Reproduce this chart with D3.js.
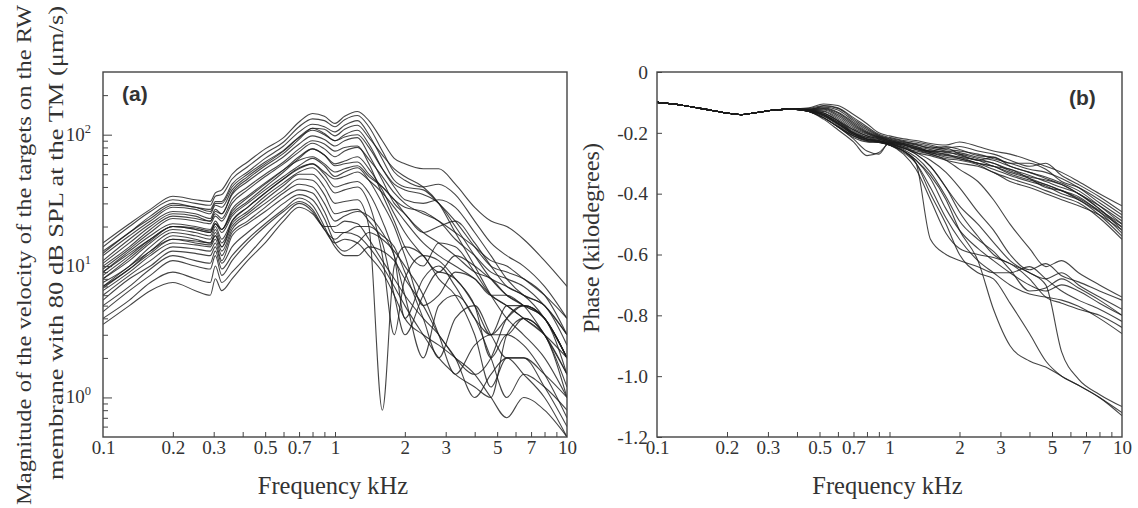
<!DOCTYPE html>
<meta charset="utf-8">
<style>
  body { margin: 0; background: #fff; }
  svg { display: block; }
</style>
<svg width="1138" height="508"></svg>
<script src="https://d3js.org/d3.v7.min.js"></script>
<script>

// ---------- data ----------

// panel (a): magnitude, um/s, sampled at these frequencies (kHz)
const freqA = [0.1, 0.13, 0.16, 0.2, 0.25, 0.29, 0.305, 0.325, 0.36, 0.42, 0.5, 0.6, 0.7, 0.8, 0.9,
               1.0, 1.1, 1.25, 1.4, 1.6, 1.8, 2.0, 2.4, 2.8, 3.3, 4.0, 4.7, 5.5, 6.5, 8.0, 10.0];

const magCurves = [
  [15,21,27,34,32,31,36,38, 50,62,78,95,125,145,138,122,138,150,128, 90,66,60,55,55,42,28,22,20,16,11,7],
  [14,20,26,32,30,29,34,35, 46,57,72,88,115,132,128,115,130,140,115, 75,52,45,40,42,35,22,15,12,10,7,4],
  [13,18,24,30,28,27,31,31, 42,52,66,82,105,120,115,105,118,128,100, 65,45,40,38,30,22,14,10,9,8,6,3],
  [12,17,22,28,27,25,29,28, 38,48,60,75,95,108,100,90,100,108,85, 55,40,32,30,32,28,18,12,8,6,5,2.5],
  [11,16,21,26,25,23,27,25, 35,44,55,68,85,98,92,82,90,95,70, 45,30,25,18,20,22,15,10,7,6,4,2],
  [10,14,19,24,23,22,25,23, 32,40,50,62,78,90,85,75,80,82,60, 35,22,14,10,15,14,9,6,5,4,3,1.5],
  [12.5,18,23,29,28,26,30,30, 40,50,62,76,96,112,102,90,96,100,80, 55,42,38,35,30,20,12,8,6,5,3,1.5],
  [10.5,15,20,25,24,22,26,25, 36,46,58,72,92,112,110,98,110,118,95, 70,55,48,40,30,18,10,6,4,3,2,1],
  [9.5,13.5,18,23,22,21,24,22, 30,38,48,60,74,86,78,68,75,80,65, 48,36,30,25,22,16,12,9,8,7,5,3],
  [8,11.5,15.5,20,19,18,21,19, 27,34,43,54,64,68,60,52,55,58,48, 40,32,25,18,15,12,9,8,6,5,4,2],
  [6.8,9.5,12.5,16,15,14.5,17,14, 22,28,36,46,55,60,52,46,48,52,45, 36,28,22,15,12,10,8,6,5,4,3,2],
  [9,12.5,16,20,19.5,18.5,21,19, 26,33,42,54,68,78,70,58,60,62,50, 40,32,28,26,22,18,14,11,10,8,6,4],
  [9,13,17,21,20,19,22,19, 25,31,40,52,66,78,70,60,63,68,55, 38,25,18,12,9,12,10,8,7,6,5,3],
  [8.5,12,16,20,19,18,21,18, 24,30,38,48,58,66,58,48,52,56,45, 30,20,12,5,6,9,8,6,6,5,4,2],
  [8,11,15,19,18,17,20,16, 22,28,36,46,56,60,50,40,42,44,36, 22,12,4,8,10,7,4,3,5,5,4,1.5],
  [7.5,10,14,18,17,16,19,15, 21,26,34,43,52,56,46,36,38,40,30, 12,3,8,12,11,8,5,2,3,2.5,1.5,0.7],
  [7,10,13,17,16,15,18,14, 20,25,32,41,50,50,40,30,31,32,20, 0.8,10,14,12,8,6,3,1.2,2,2,1.2,0.6],
  [7,9.5,13,16,15.5,15,17,13, 19,24,30,38,46,45,35,25,26,27,22, 15,6,3,6,9,8,5,3,4,5,4,2],
  [6.5,9,12,15,14.5,14,16,12, 18,22,28,36,42,40,30,22,24,26,24, 18,12,6,2,5,6,4,2,1,1.5,1.2,0.8],
  [6,8.5,11,14,13.5,13,15,11, 17,21,26,33,38,36,26,18,18,20,20, 17,14,9,4,2,4,5,3,2,2,1.5,1],
  [5.5,8,10,13,12.5,12,14,10.5, 14,18,23,30,35,32,23,15,13,15,18, 16,13,10,6,3,1.5,2.5,3,3,4,3,1.2],
  [5,7,9.5,12,11,10.5,13,9.5, 12,16,21,27,33,29,20,14,12,12,14, 13,11,8,5,3,2,1,1.5,2,1.5,1,0.5],
  [4.5,6.5,8.5,11,10,9.5,12,8.5, 11,15,20,26,31,27,19,15,16,15,12, 9,6,4,3,2.5,2,1.5,1,0.7,1,0.8,0.5],
  [4,5.5,7.5,9,8,7.5,10,7.5, 9,12,17,24,30,26,19,16,18,17,14, 10,7,5,3,2,1.5,1.2,1,3,4,3,1],
  [3.6,5,6.5,7.5,6.5,6,8,6.5, 8,11,15,22,28,25,20,20,22,21,16, 11,8,6,4,3,2,1.5,2,4,5,4,2]
];

// panel (b): phase, kilodegrees
const freqB = [0.1, 0.13, 0.16, 0.2, 0.23, 0.27, 0.32, 0.38, 0.45, 0.52, 0.6, 0.7, 0.8, 0.9, 1.0,
               1.15, 1.3, 1.5, 1.75, 2.0, 2.4, 2.8, 3.3, 4.0, 4.7, 5.5, 6.5, 8.0, 10.0];

// all ears coincide below ~0.4 kHz
const phaseCommon = [-0.100, -0.110, -0.122, -0.135, -0.140, -0.133, -0.125, -0.122];

// from 0.45 kHz on
const phaseCurves = [
  [-0.118,-0.105,-0.110,-0.14,-0.17,-0.20,-0.21,-0.22,-0.225,-0.235,-0.24,-0.23,-0.245,-0.26,-0.27,-0.29,-0.31,-0.33,-0.36,-0.40,-0.44],
  [-0.120,-0.110,-0.118,-0.15,-0.18,-0.205,-0.215,-0.225,-0.23,-0.24,-0.25,-0.245,-0.26,-0.27,-0.29,-0.31,-0.30,-0.34,-0.37,-0.41,-0.46],
  [-0.122,-0.115,-0.125,-0.16,-0.19,-0.21,-0.22,-0.23,-0.235,-0.245,-0.255,-0.26,-0.27,-0.285,-0.30,-0.32,-0.33,-0.35,-0.38,-0.43,-0.48],
  [-0.123,-0.118,-0.132,-0.165,-0.195,-0.212,-0.222,-0.232,-0.24,-0.25,-0.26,-0.265,-0.28,-0.29,-0.31,-0.33,-0.345,-0.365,-0.39,-0.44,-0.50],
  [-0.125,-0.122,-0.14,-0.175,-0.20,-0.215,-0.225,-0.235,-0.245,-0.255,-0.265,-0.27,-0.285,-0.30,-0.32,-0.34,-0.36,-0.38,-0.40,-0.45,-0.52],
  [-0.126,-0.128,-0.15,-0.185,-0.205,-0.218,-0.228,-0.24,-0.25,-0.26,-0.27,-0.28,-0.29,-0.31,-0.33,-0.35,-0.37,-0.39,-0.41,-0.46,-0.53],
  [-0.127,-0.135,-0.16,-0.19,-0.21,-0.22,-0.23,-0.245,-0.255,-0.265,-0.28,-0.285,-0.30,-0.32,-0.34,-0.36,-0.375,-0.40,-0.42,-0.47,-0.54],
  [-0.128,-0.14,-0.165,-0.20,-0.215,-0.222,-0.232,-0.25,-0.26,-0.27,-0.285,-0.29,-0.305,-0.33,-0.35,-0.37,-0.39,-0.41,-0.43,-0.48,-0.55],
  [-0.128,-0.145,-0.17,-0.205,-0.22,-0.225,-0.235,-0.25,-0.265,-0.275,-0.29,-0.30,-0.31,-0.33,-0.36,-0.38,-0.40,-0.42,-0.44,-0.47,-0.52],
  [-0.13,-0.15,-0.18,-0.22,-0.26,-0.27,-0.23,-0.235,-0.245,-0.26,-0.25,-0.27,-0.29,-0.28,-0.31,-0.33,-0.35,-0.37,-0.40,-0.44,-0.49],
  [-0.13,-0.155,-0.19,-0.23,-0.275,-0.265,-0.235,-0.24,-0.25,-0.265,-0.275,-0.28,-0.30,-0.31,-0.32,-0.35,-0.38,-0.39,-0.42,-0.46,-0.51],
  [-0.124,-0.112,-0.12,-0.155,-0.185,-0.208,-0.218,-0.228,-0.238,-0.25,-0.245,-0.255,-0.275,-0.28,-0.30,-0.30,-0.32,-0.36,-0.38,-0.42,-0.47],
  [-0.125,-0.12,-0.135,-0.17,-0.198,-0.214,-0.224,-0.236,-0.248,-0.26,-0.262,-0.275,-0.29,-0.30,-0.325,-0.345,-0.355,-0.37,-0.40,-0.45,-0.51],
  [-0.126,-0.125,-0.145,-0.18,-0.202,-0.216,-0.226,-0.238,-0.252,-0.262,-0.272,-0.285,-0.30,-0.31,-0.335,-0.355,-0.37,-0.39,-0.415,-0.455,-0.50],
  [-0.13,-0.15,-0.18,-0.21,-0.225,-0.23,-0.24,-0.26,-0.29,-0.35,-0.45,-0.52,-0.58,-0.62,-0.66,-0.70,-0.72,-0.70,-0.72,-0.76,-0.80],
  [-0.128,-0.14,-0.17,-0.20,-0.22,-0.228,-0.235,-0.25,-0.27,-0.31,-0.38,-0.44,-0.50,-0.56,-0.62,-0.66,-0.68,-0.66,-0.70,-0.74,-0.78],
  [-0.127,-0.135,-0.16,-0.195,-0.215,-0.225,-0.232,-0.245,-0.265,-0.29,-0.33,-0.38,-0.46,-0.52,-0.60,-0.65,-0.63,-0.67,-0.69,-0.72,-0.75],
  [-0.13,-0.15,-0.18,-0.215,-0.23,-0.232,-0.24,-0.27,-0.32,-0.42,-0.53,-0.58,-0.60,-0.61,-0.63,-0.68,-0.74,-0.76,-0.78,-0.80,-0.84],
  [-0.129,-0.145,-0.175,-0.21,-0.225,-0.23,-0.24,-0.265,-0.30,-0.38,-0.48,-0.55,-0.62,-0.66,-0.70,-0.73,-0.74,-0.75,-0.77,-0.81,-0.86],
  [-0.126,-0.13,-0.155,-0.19,-0.21,-0.22,-0.23,-0.24,-0.255,-0.27,-0.29,-0.32,-0.36,-0.42,-0.50,-0.58,-0.64,-0.62,-0.66,-0.70,-0.74],
  [-0.127,-0.14,-0.165,-0.2,-0.22,-0.226,-0.235,-0.255,-0.28,-0.33,-0.41,-0.49,-0.55,-0.59,-0.65,-0.72,-0.71,-0.68,-0.71,-0.75,-0.80],
  [-0.128,-0.142,-0.17,-0.205,-0.222,-0.228,-0.237,-0.26,-0.30,-0.55,-0.60,-0.62,-0.64,-0.66,-0.66,-0.64,-0.68,-0.72,-0.75,-0.78,-0.82],
  [-0.128,-0.14,-0.17,-0.205,-0.225,-0.23,-0.24,-0.26,-0.29,-0.34,-0.42,-0.52,-0.62,-0.78,-0.90,-0.95,-0.97,-1.00,-1.03,-1.07,-1.12],
  [-0.127,-0.135,-0.16,-0.2,-0.22,-0.228,-0.236,-0.25,-0.27,-0.31,-0.38,-0.46,-0.54,-0.60,-0.63,-0.66,-0.70,-0.92,-1.01,-1.06,-1.10],
  [-0.13,-0.15,-0.18,-0.21,-0.228,-0.232,-0.24,-0.26,-0.30,-0.40,-0.50,-0.60,-0.66,-0.68,-0.76,-0.86,-0.95,-1.00,-1.03,-1.07,-1.13]
];

// axes
const xMinorTicks = [0.2,0.3,0.4,0.5,0.6,0.7,0.8,0.9,1,2,3,4,5,6,7,8,9];
const xTickLabels = [0.1,0.2,0.3,0.5,0.7,1,2,3,5,7,10];
const magMinorTicks = [0.6,0.7,0.8,0.9,2,3,4,5,6,7,8,9,20,30,40,50,60,70,80,90,200];
const magDecades = [1,10,100];
const phaseTicks = [0,-0.2,-0.4,-0.6,-0.8,-1.0,-1.2];

// ---------- drawing ----------

const svg = d3.select("svg");
const serif = "'Liberation Serif','Times New Roman',serif";
const plotTop = 72, plotBottom = 437;

const xA = d3.scaleLog().domain([0.1, 10]).range([103, 567]);
const yA = d3.scaleLog().domain([0.5, 300]).range([plotBottom, plotTop]);
const xB = d3.scaleLog().domain([0.1, 10]).range([657, 1122]);
const yB = d3.scaleLinear().domain([-1.2, 0]).range([plotBottom, plotTop]);

function clip(id, x) {
  svg.append("clipPath").attr("id", id)
    .append("rect")
      .attr("x", x.range()[0]).attr("y", plotTop)
      .attr("width", x.range()[1] - x.range()[0]).attr("height", plotBottom - plotTop);
}
clip("clipA", xA);
clip("clipB", xB);

function xAxis(x) {
  svg.append("g")
      .attr("transform", `translate(0,${plotBottom})`)
      .call(d3.axisBottom(x).tickValues(xMinorTicks).tickSize(-5).tickFormat(""))
      .call(g => g.select(".domain").remove())
      .call(g => g.selectAll("line").attr("stroke", "#444"));
  svg.append("g")
      .attr("transform", `translate(0,${plotBottom})`)
      .call(d3.axisBottom(x).tickValues(xTickLabels).tickSize(0).tickPadding(3)
        .tickFormat(d => String(d)))
      .call(g => g.select(".domain").remove())
      .call(g => g.selectAll("text")
        .attr("font-family", serif).attr("font-size", 19).attr("fill", "#333"));
  svg.append("text")
      .attr("x", (x.range()[0] + x.range()[1]) / 2 - 2)
      .attr("y", 494)
      .attr("text-anchor", "middle")
      .attr("font-family", serif).attr("font-size", 24.5).attr("fill", "#333")
      .text("Frequency kHz");
}

function frame(x) {
  svg.append("rect")
      .attr("x", x.range()[0]).attr("y", plotTop)
      .attr("width", x.range()[1] - x.range()[0]).attr("height", plotBottom - plotTop)
      .attr("fill", "none").attr("stroke", "#444").attr("stroke-width", 1.4);
}

const curveStyle = sel => sel
    .attr("fill", "none")
    .attr("stroke", "#1c1c1c")
    .attr("stroke-width", 1.1)
    .attr("stroke-opacity", 0.82)
    .attr("stroke-linejoin", "round");

// ---- panel (a)
const lineA = d3.line().curve(d3.curveMonotoneX)
    .x(d => xA(d[0])).y(d => yA(d[1]));

svg.append("g").attr("clip-path", "url(#clipA)")
  .selectAll("path")
  .data(magCurves.map(c => c.map((v, i) => [freqA[i], v])))
  .join("path")
    .attr("d", lineA)
    .call(curveStyle);

svg.append("g")
    .attr("transform", `translate(${xA.range()[0]},0)`)
    .call(d3.axisLeft(yA).tickValues(magMinorTicks).tickSize(-5).tickFormat(""))
    .call(g => g.select(".domain").remove())
    .call(g => g.selectAll("line").attr("stroke", "#444"));
svg.append("g")
    .attr("transform", `translate(${xA.range()[0]},0)`)
    .call(d3.axisLeft(yA).tickValues(magDecades).tickSize(-9).tickPadding(12).tickFormat(""))
    .call(g => g.select(".domain").remove())
    .call(g => g.selectAll("line").attr("stroke", "#444"))
    .call(g => g.selectAll(".tick text")
      .attr("font-family", serif).attr("fill", "#333").attr("dy", "0.55em")
      .each(function(d) {
        const t = d3.select(this);
        t.append("tspan").attr("font-size", 19).text("10");
        t.append("tspan").attr("font-size", 12.5).attr("dy", -8).text(Math.round(Math.log10(d)));
      }));

frame(xA);
xAxis(xA);

svg.append("text")
    .attr("x", 122).attr("y", 101)
    .attr("font-family", "'Liberation Sans',Arial,sans-serif")
    .attr("font-weight", "bold").attr("font-size", 21).attr("fill", "#333")
    .text("(a)");

const yTitleA = svg.append("g").attr("font-family", serif).attr("font-size", 22).attr("fill", "#333");
yTitleA.append("text")
    .attr("transform", "translate(31,505) rotate(-90)")
    .attr("textLength", 500).attr("lengthAdjust", "spacingAndGlyphs")
    .text("Magnitude of the velocity of the targets on the RW");
yTitleA.append("text")
    .attr("transform", "translate(63,480) rotate(-90)")
    .attr("textLength", 474).attr("lengthAdjust", "spacingAndGlyphs")
    .text("membrane with 80 dB SPL at the TM (\u03bcm/s)");

// ---- panel (b)
const lineB = d3.line().curve(d3.curveMonotoneX)
    .x(d => xB(d[0])).y(d => yB(d[1]));

svg.append("g").attr("clip-path", "url(#clipB)")
  .selectAll("path")
  .data(phaseCurves.map(c => phaseCommon.concat(c).map((v, i) => [freqB[i], v])))
  .join("path")
    .attr("d", lineB)
    .call(curveStyle);

svg.append("g")
    .attr("transform", `translate(${xB.range()[0]},0)`)
    .call(d3.axisLeft(yB).tickValues(phaseTicks).tickSize(-5).tickPadding(9)
      .tickFormat(d => d === 0 ? "0" : d3.format(".1f")(d).replace("\u2212", "-")))
    .call(g => g.select(".domain").remove())
    .call(g => g.selectAll("line").attr("stroke", "#444"))
    .call(g => g.selectAll("text")
      .attr("font-family", serif).attr("font-size", 19.5).attr("fill", "#333"));

frame(xB);
xAxis(xB);

svg.append("text")
    .attr("x", 1069).attr("y", 105)
    .attr("font-family", "'Liberation Sans',Arial,sans-serif")
    .attr("font-weight", "bold").attr("font-size", 21).attr("fill", "#333")
    .text("(b)");

svg.append("text")
    .attr("transform", "translate(599,333) rotate(-90)")
    .attr("textLength", 190).attr("lengthAdjust", "spacingAndGlyphs")
    .attr("font-family", serif).attr("font-size", 23).attr("fill", "#333")
    .text("Phase (kilodegrees)");

</script>
